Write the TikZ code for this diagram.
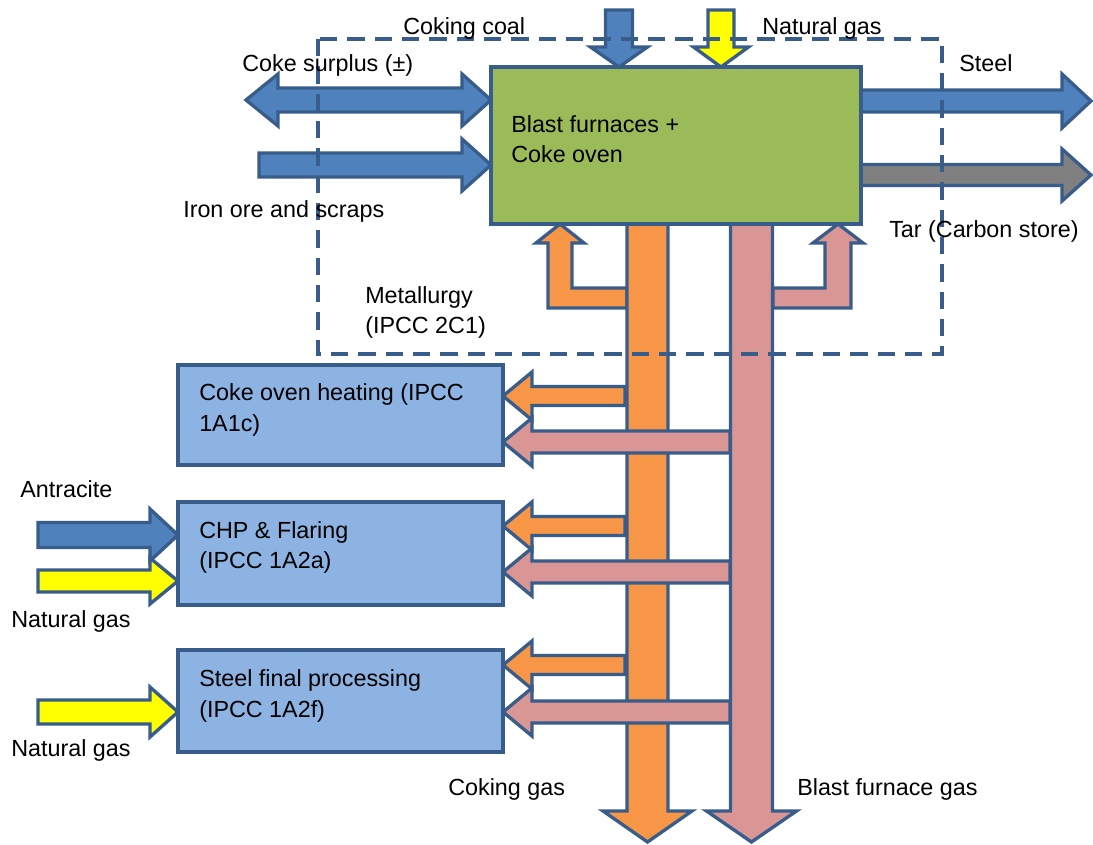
\documentclass[tikz,border=0pt]{standalone}
\usepackage{fontspec}
\setmainfont{Liberation Sans}
\definecolor{bord}{HTML}{385D8A}
\definecolor{ablue}{HTML}{4F81BD}
\definecolor{agreen}{HTML}{9BBB59}
\definecolor{aorange}{HTML}{F79646}
\definecolor{apink}{HTML}{D99694}
\definecolor{lbox}{HTML}{8DB3E2}
\definecolor{agray}{HTML}{808080}
\definecolor{ayellow}{HTML}{FFFF00}
\newcommand{\lblfont}{\fontsize{17.5}{21}\selectfont}
\tikzset{
  outl/.style={draw=bord, line width=2.5pt, line join=miter},
  lbl/.style={font=\lblfont, anchor=base west, inner sep=0pt, text=black},
  procbox/.style={outl, fill=lbox, minimum width=243.75pt, inner sep=0pt},
  mainbox/.style={outl, fill=agreen, minimum width=277.5pt, minimum height=117.75pt, inner sep=0pt},
  boundary/.style={draw=bord, line width=2.6pt, dash pattern=on 13pt off 7.5pt},
}
% horizontal block arrow: color, x tail, x tip, y, shaft half, head half, signed head length
\newcommand{\HArrow}[7]{\filldraw[outl,fill=#1] ({#2},{#4-#5}) -- ({#3-(#7)},{#4-#5}) -- ({#3-(#7)},{#4-#6}) -- ({#3},{#4}) -- ({#3-(#7)},{#4+#6}) -- ({#3-(#7)},{#4+#5}) -- ({#2},{#4+#5}) -- cycle;}
% vertical block arrow: color, x center, y tail, y tip, shaft half, head half, signed head length
\newcommand{\VArrow}[7]{\filldraw[outl,fill=#1] ({#2-#5},{#3}) -- ({#2-#5},{#4-(#7)}) -- ({#2-#6},{#4-(#7)}) -- ({#2},{#4}) -- ({#2+#6},{#4-(#7)}) -- ({#2+#5},{#4-(#7)}) -- ({#2+#5},{#3}) -- cycle;}
\begin{document}
\begin{tikzpicture}[x=0.75pt,y=-0.75pt]
\useasboundingbox (0,0) rectangle (1093,845);

% inputs / outputs of the main box
\filldraw[outl,fill=ablue] (246,100) -- (278,74) -- (278,88) -- (462,88) -- (462,74) -- (491,100) -- (462,126) -- (462,112) -- (278,112) -- (278,126) -- cycle;
\HArrow{ablue}{259}{491}{165}{12}{26}{29}
\HArrow{ablue}{861}{1091}{101}{11}{27}{29}
\HArrow{agray}{861}{1091}{175}{10.5}{26}{29}
\VArrow{ablue}{619}{10}{67}{13.5}{28.5}{20}
\VArrow{ayellow}{721}{10}{67}{13}{27.5}{20}

% coking gas
\filldraw[outl,fill=aorange] (627,288) -- (572,288) -- (572,243) -- (584,243) -- (560,224) -- (536,243) -- (548,243) -- (548,308) -- (627,308) -- cycle;
\VArrow{aorange}{647.5}{224}{842}{20.5}{44.5}{31}
\HArrow{aorange}{625}{503}{396}{9.5}{24}{-29}
\HArrow{aorange}{625}{503}{526}{9.5}{24}{-29}
\HArrow{aorange}{625}{503}{665}{9.5}{24}{-29}

% blast furnace gas
\filldraw[outl,fill=apink] (773,288) -- (825,288) -- (825,243) -- (813,243) -- (838,224) -- (863,243) -- (851,243) -- (851,308) -- (773,308) -- cycle;
\VArrow{apink}{751.5}{224}{842}{21}{45}{31}
\HArrow{apink}{730}{503}{442}{11}{24}{-29}
\HArrow{apink}{730}{503}{572}{11}{24}{-29}
\HArrow{apink}{730}{503}{712}{11}{24}{-29}

% external inputs to the left boxes
\HArrow{ablue}{38}{178}{535}{12.5}{26}{28}
\HArrow{ayellow}{38}{178}{581}{11}{23}{28}
\HArrow{ayellow}{38}{178}{712}{12}{25}{28}

% boxes
\node[mainbox] (bf) at (676,145.5) {};
\node[procbox, minimum height=75pt] (coh) at (340.5,415) {};
\node[procbox, minimum height=77.25pt] (chp) at (340.5,553.5) {};
\node[procbox, minimum height=76.5pt] (sfp) at (340.5,701) {};

% system boundary
\draw[boundary] (318,39) rectangle (942,354);

% labels
\node[lbl] (t1) at (511,133) {Blast furnaces +};
\node[lbl] (t2) at (511,163) {Coke oven};
\node[lbl] (t3) at (199,400) {Coke oven heating (IPCC};
\node[lbl] (t4) at (199,431) {1A1c)};
\node[lbl] (t5) at (199,538) {CHP \& Flaring};
\node[lbl] (t6) at (199,568) {(IPCC 1A2a)};
\node[lbl] (t7) at (199,686) {Steel final processing};
\node[lbl] (t8) at (199,717) {(IPCC 1A2f)};
\node[lbl] (l1) at (403,35) {Coking coal};
\node[lbl] (l2) at (762,35) {Natural gas};
\node[lbl] (l3) at (242,72) {Coke surplus (±)};
\node[lbl] (l4) at (183,218) {Iron ore and scraps};
\node[lbl] (l5) at (959,72) {Steel};
\node[lbl] (l6) at (889,238) {Tar (Carbon store)};
\node[lbl] (l7) at (365,303) {Metallurgy};
\node[lbl] (l8) at (365,333) {(IPCC 2C1)};
\node[lbl] (l9) at (20,497) {Antracite};
\node[lbl] (l10) at (11,627) {Natural gas};
\node[lbl] (l11) at (11,756) {Natural gas};
\node[lbl] (l12) at (448,795) {Coking gas};
\node[lbl] (l13) at (797,795) {Blast furnace gas};
\end{tikzpicture}
\end{document}
